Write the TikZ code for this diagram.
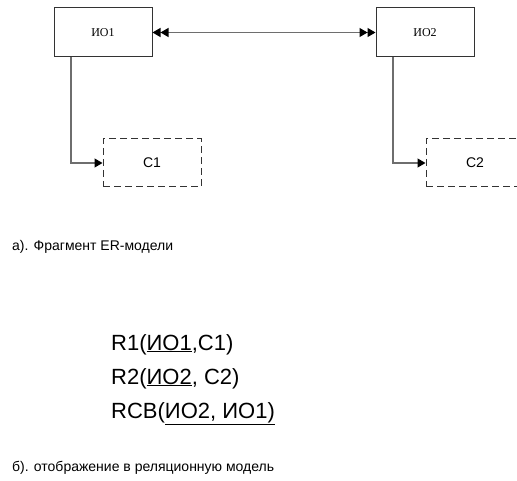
\documentclass[tikz,border=0pt]{standalone}
\usepackage{fontspec}
\setmainfont{Liberation Sans}
\newfontfamily\serifio{Liberation Serif}
\usetikzlibrary{arrows.meta}
\definecolor{lineg}{HTML}{6E6E6E}
\definecolor{boxg}{HTML}{333333}
\tikzset{
  entbox/.style={draw=boxg, line width=1pt, minimum width=98pt, minimum height=49pt, inner sep=0pt, font=\serifio\fontsize{12}{14}\selectfont},
  attrbox/.style={draw=boxg, line width=1pt, dash pattern=on 7pt off 4pt, minimum width=98pt, minimum height=48pt, inner sep=0pt, font=\fontsize{14}{16}\selectfont},
  conn/.style={draw=lineg, line width=1.2pt},
  dbl/.style={arrows={Triangle[length=8pt,width=9pt,color=black]Triangle[length=8pt,width=9pt,color=black]-Triangle[length=8pt,width=9pt,color=black]Triangle[length=8pt,width=9pt,color=black]}},
  sgl/.style={arrows={-Triangle[length=8pt,width=9pt,color=black]}},
  caption/.style={anchor=west, inner sep=0pt, font=\fontsize{14}{16}\selectfont},
  rel/.style={anchor=base west, inner sep=0pt, font=\fontsize{22}{26}\selectfont}
}
\begin{document}
\begin{tikzpicture}[x=1pt,y=-1pt]
\useasboundingbox (0,0) rectangle (517,481);
\clip (0,0) rectangle (517,481);
\node[entbox] (io1) at (103,32.5) {ИО1};
\node[entbox] (io2) at (425,32.5) {ИО2};
\node[attrbox] (c1) at (152,163) {C1};
\node[attrbox] (c2) at (475,163) {C2};
\draw[conn, dbl] (io1.east) -- (io2.west);
\draw[conn, sgl] ([xshift=-32pt]io1.south) |- (c1.west);
\draw[conn, sgl] ([xshift=-32pt]io2.south) |- (c2.west);
\node[caption] (capa) at (12,247) {а). Фрагмент ER-модели};
\node[rel] (r1) at (111,350) {R1(\underline{ИО1},C1)};
\node[rel] (r2) at (111,384) {R2(\underline{ИО2}, C2)};
\node[rel] (r3) at (111,418) {RCB(\underline{ИО2, ИО1)}};
\node[caption] (capb) at (12,468) {б). отображение в реляционную модель};
\end{tikzpicture}
\end{document}
